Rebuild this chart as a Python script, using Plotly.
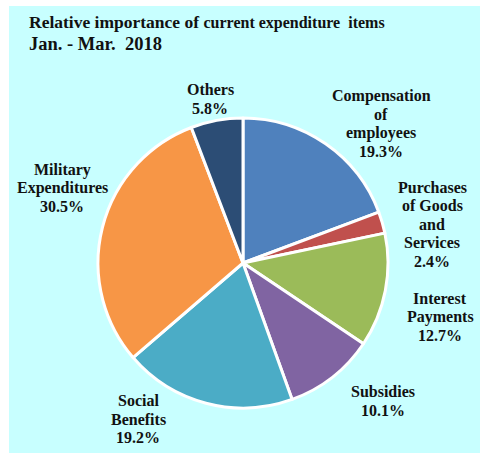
import plotly.graph_objects as go

# Current expenditure shares, Jan. - Mar. 2018 (percent)
categories = [
    "Compensation<br>of<br>employees",
    "Purchases<br>of Goods<br>and<br>Services",
    "Interest<br>Payments",
    "Subsidies",
    "Social<br>Benefits",
    "Military<br>Expenditures",
    "Others",
]
shares = [19.3, 2.4, 12.7, 10.1, 19.2, 30.5, 5.8]
colors = ["#4F81BD", "#C0504D", "#9BBB59", "#8064A2", "#4BACC6", "#F79646", "#2C4D75"]

W, H = 480, 455
SERIF = "Liberation Serif, Times New Roman, serif"

# pie geometry in pixels
cx, cy, r = 243, 263, 145

# label block centres in pixels (x, y) and line pitch
label_pos = [(381, 124), (432, 224), (440, 317), (383, 401),
             (138, 419), (62, 188), (210, 99)]
LINE = 18.5

fig = go.Figure(go.Pie(
    values=shares,
    labels=categories,
    sort=False,
    direction="clockwise",
    rotation=0,
    marker=dict(colors=colors, line=dict(color="white", width=3)),
    textinfo="none",
    hoverinfo="label+percent",
    showlegend=False,
    domain=dict(x=[(cx - r) / W, (cx + r) / W],
                y=[1 - (cy + r) / H, 1 - (cy - r) / H]),
))

annotations = []
for name, val, (px, py) in zip(categories, shares, label_pos):
    lines = name.split("<br>") + [f"{val:.1f}%"]
    top = py - LINE * (len(lines) - 1) / 2
    for i, ln in enumerate(lines):
        annotations.append(dict(
            text=f"<b>{ln}</b>",
            x=px / W, y=1 - (top + i * LINE) / H, xref="paper", yref="paper",
            xanchor="center", yanchor="middle", align="center",
            showarrow=False, font=dict(family=SERIF, size=16, color="#111"),
        ))

annotations.append(dict(
    text="<b>Relative importance of "
         "<span style='font-size:16px'>current expenditure  items</span></b>",
    x=27 / W, y=1 - 22 / H, xref="paper", yref="paper",
    xanchor="left", yanchor="middle", showarrow=False,
    font=dict(family=SERIF, size=17.5, color="#111"),
))
annotations.append(dict(
    text="<b>Jan. - Mar.  2018</b>",
    x=27 / W, y=1 - 44 / H, xref="paper", yref="paper",
    xanchor="left", yanchor="middle", showarrow=False,
    font=dict(family=SERIF, size=18.5, color="#111"),
))

fig.update_layout(
    width=W, height=H,
    margin=dict(l=0, r=0, t=0, b=0),
    paper_bgcolor="white",
    shapes=[dict(type="rect", xref="paper", yref="paper",
                 x0=9 / W, x1=1, y0=1 - 453 / H, y1=1 - 6 / H,
                 fillcolor="#C8FFFF", line=dict(width=0), layer="below")],
    annotations=annotations,
)

fig.write_html("out.html")
